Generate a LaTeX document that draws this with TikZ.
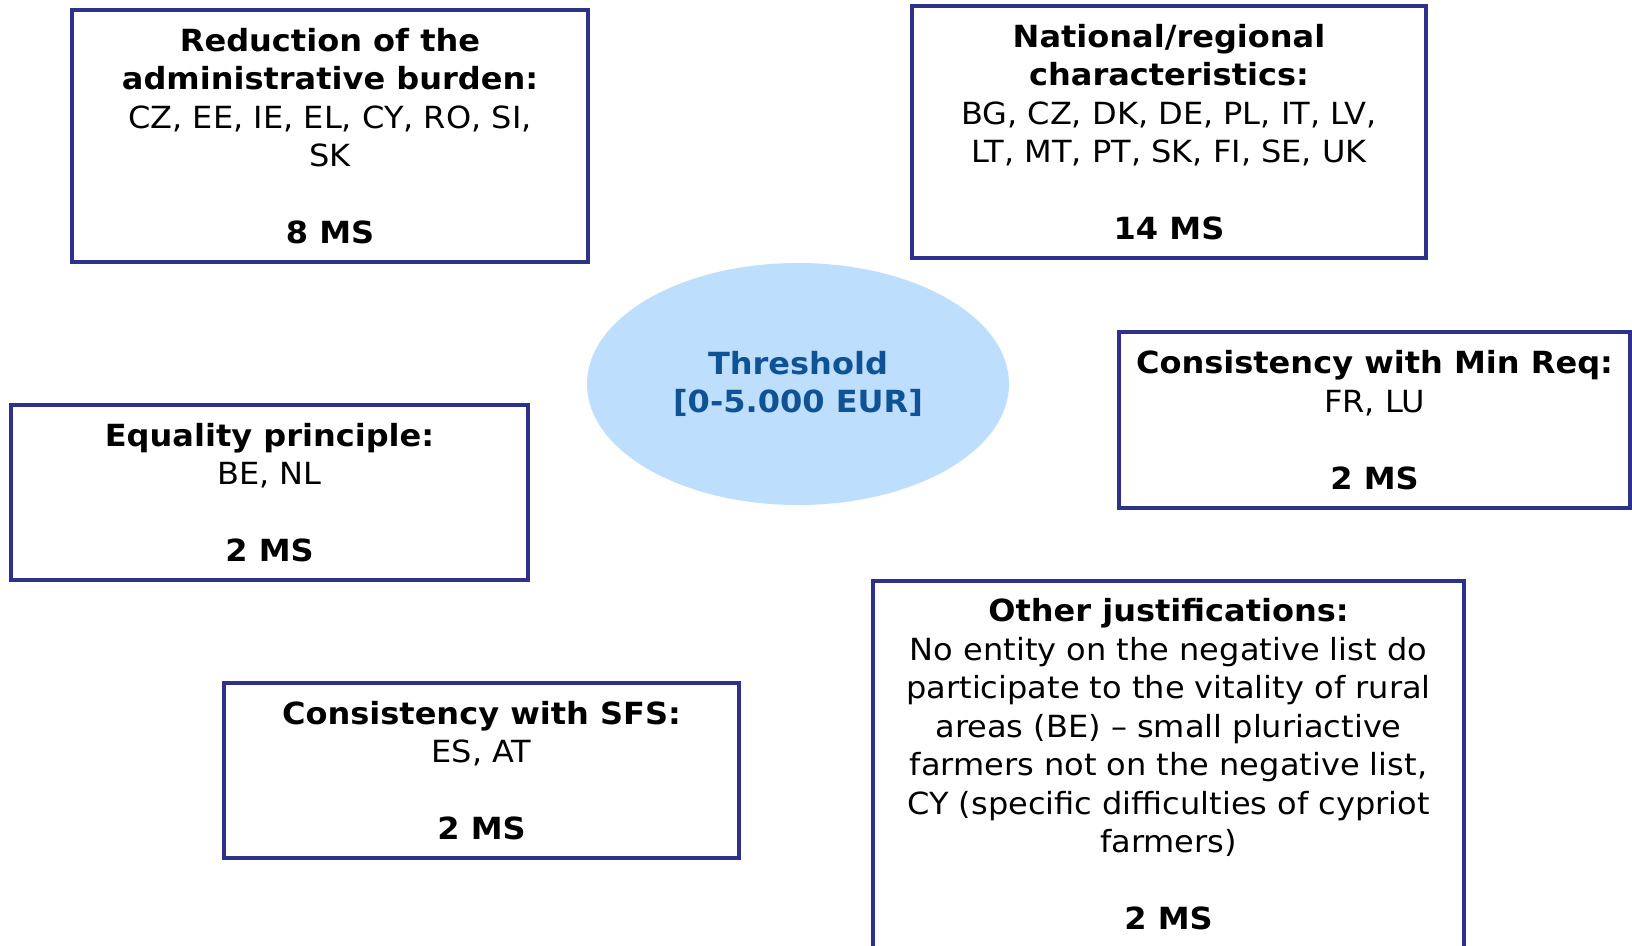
\documentclass[tikz,border=0pt]{standalone}
\usepackage{fontspec}
\setmainfont[FakeStretch=1.05]{DejaVu Sans}
\usetikzlibrary{shapes.geometric}

\definecolor{boxnavy}{RGB}{46,49,140}
\definecolor{threshfill}{RGB}{189,222,252}
\definecolor{threshtext}{RGB}{16,82,150}

\begin{document}
\begin{tikzpicture}[x=1pt, y=-1pt,
    msbox/.style={draw=boxnavy, line width=3.8pt, fill=white, inner sep=0pt, align=center,
      font=\fontsize{30.5}{38.5}\selectfont},
    threshold/.style={ellipse, fill=threshfill, inner sep=0pt, minimum width=422pt,
      minimum height=242pt, align=center, text=threshtext,
      font=\fontsize{30.5}{38.5}\selectfont\bfseries}]
    \useasboundingbox (0,0) rectangle (1632,945);
    \node[threshold] (thresh) at (798,384) {Threshold\\{[}0-5.000 EUR{]}};
    \node[msbox, minimum width=516pt, minimum height=252pt] (admin) at (330,136)
      {\textbf{Reduction of the}\\\textbf{administrative burden:}\\CZ, EE, IE, EL, CY, RO, SI,\\SK\\[38.5pt]\textbf{8 MS}};
    \node[msbox, minimum width=514pt, minimum height=252pt] (national) at (1169,132)
      {\textbf{National/regional}\\\textbf{characteristics:}\\BG, CZ, DK, DE, PL, IT, LV,\\LT, MT, PT, SK, FI, SE, UK\\[38.5pt]\textbf{14 MS}};
    \node[msbox, minimum width=511pt, minimum height=176pt] (minreq) at (1374.5,420)
      {\textbf{Consistency with Min Req:}\\FR, LU\\[38.5pt]\textbf{2 MS}};
    \node[msbox, minimum width=517pt, minimum height=175pt] (equality) at (269.5,492.5)
      {\textbf{Equality principle:}\\BE, NL\\[38.5pt]\textbf{2 MS}};
    \node[msbox, minimum width=515pt, minimum height=175pt] (sfs) at (481.5,770.5)
      {\textbf{Consistency with SFS:}\\ES, AT\\[38.5pt]\textbf{2 MS}};
    \node[msbox, minimum width=591pt, minimum height=367pt] (other) at (1168.5,764.5)
      {\textbf{Other justifications:}\\No entity on the negative list do\\participate to the vitality of rural\\areas (BE) – small pluriactive\\farmers not on the negative list,\\CY (specific difficulties of cypriot\\farmers)\\[38.5pt]\textbf{2 MS}};
\end{tikzpicture}
\end{document}
